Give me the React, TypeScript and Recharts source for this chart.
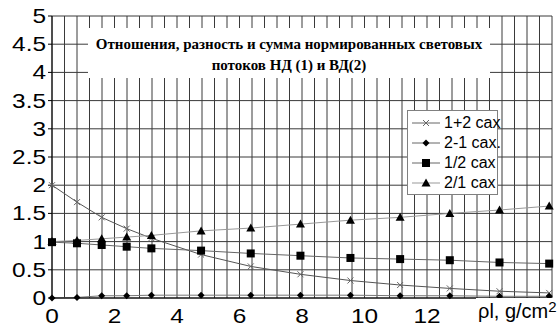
import React from "react";
import { LineChart, Line, XAxis, YAxis, CartesianGrid } from "recharts";

const rhoL = [0, 0.8, 1.59, 2.39, 3.18, 4.77, 6.36, 7.95, 9.55, 11.14, 12.73, 14.32, 15.91];
const sum12 = [2.0, 1.7, 1.43, 1.23, 1.06, 0.77, 0.56, 0.42, 0.31, 0.23, 0.17, 0.12, 0.09];
const diff21 = [0, 0.01, 0.04, 0.04, 0.05, 0.05, 0.05, 0.05, 0.05, 0.04, 0.04, 0.03, 0.03];
const ratio12 = [0.99, 0.97, 0.94, 0.91, 0.88, 0.84, 0.79, 0.75, 0.71, 0.69, 0.67, 0.63, 0.61];
const ratio21 = [1.0, 1.02, 1.05, 1.08, 1.11, 1.19, 1.24, 1.31, 1.38, 1.43, 1.5, 1.56, 1.63];

const X_MAX = 16;
const xTicks = [0, 2, 4, 6, 8, 10, 12];
const yTicks = [0, 0.5, 1, 1.5, 2, 2.5, 3, 3.5, 4, 4.5, 5];
const gridTicks = Array.from({ length: 41 }, (_, i) => +(i * 0.4).toFixed(1));

const titleLines = [
  "Отношения, разность и сумма нормированных световых",
  "потоков НД (1) и ВД(2)",
];

const data = rhoL.map((x, i) => ({
  x,
  s: sum12[i],
  d: diff21[i],
  r12: ratio12[i],
  r21: ratio21[i],
}));

const Cross = ({ cx, cy }: any) => (
  <path d={`M${cx - 3},${cy - 3}L${cx + 3},${cy + 3}M${cx - 3},${cy + 3}L${cx + 3},${cy - 3}`} stroke="#666" strokeWidth={1} />
);
const Diamond = ({ cx, cy }: any) => (
  <path d={`M${cx},${cy - 3.5}L${cx + 3.5},${cy}L${cx},${cy + 3.5}L${cx - 3.5},${cy}Z`} fill="#000" />
);
const Square = ({ cx, cy }: any) => <rect x={cx - 4} y={cy - 4} width={8} height={8} fill="#000" />;
const Triangle = ({ cx, cy }: any) => (
  <path d={`M${cx},${cy - 4.5}L${cx + 4.5},${cy + 3.5}L${cx - 4.5},${cy + 3.5}Z`} fill="#000" />
);

// Excel-style labels look horizontally stretched
const StretchTick = ({ x, y, payload, anchor, dy }: any) => (
  <g transform={`translate(${x},${y}) scale(1.22,1)`}>
    <text textAnchor={anchor} dy={dy} fontSize={20} fontFamily="Liberation Sans, Arial" fill="#000">
      {payload.value}
    </text>
  </g>
);

const gridX = (props: any) => {
  const { xAxis, offset } = props;
  const sc = xAxis?.scale;
  if (typeof sc === "function") return gridTicks.map((t) => sc(t));
  if (sc && typeof sc.map === "function") return gridTicks.map((t) => sc.map(t));
  return gridTicks.map((t) => offset.left + (t / X_MAX) * offset.width);
};

const legendItems = [
  { label: "1+2 cax", color: "#666", Mark: Cross },
  { label: "2-1 cax.", color: "#666", Mark: Diamond },
  { label: "1/2 cax", color: "#666", Mark: Square },
  { label: "2/1 cax", color: "#999", Mark: Triangle },
];

function LegendBox() {
  return (
    <div style={{ position: "absolute", left: 407, top: 110, background: "#fff", border: "1px solid #808080", width: 91, height: 85, boxSizing: "border-box", padding: "2px 0 0 4px" }}>
      {legendItems.map(({ label, color, Mark }) => (
        <div key={label} style={{ display: "flex", alignItems: "center", height: 20, whiteSpace: "nowrap" }}>
          <svg width={30} height={14} style={{ flex: "none" }}>
            <line x1={0} y1={7} x2={28} y2={7} stroke={color} />
            <Mark cx={14} cy={7} />
          </svg>
          <span style={{ fontFamily: "Liberation Sans, Arial", fontSize: 16, color: "#000", marginLeft: 2 }}>{label}</span>
        </div>
      ))}
    </div>
  );
}

export default function App() {
  return (
    <div style={{ position: "absolute", left: 0, top: 0, width: 558, height: 326, background: "#fff" }}>
      <LineChart width={558} height={326} data={data} margin={{ top: 16, right: 6, left: 0, bottom: 0 }}>
        <CartesianGrid stroke="#3a3a3a" verticalCoordinatesGenerator={gridX} />
        <XAxis
          dataKey="x"
          type="number"
          domain={[0, X_MAX]}
          ticks={xTicks}
          interval={0}
          height={28}
          tickLine={false}
          axisLine={{ stroke: "#000" }}
          tick={<StretchTick anchor="middle" dy={17} />}
        />
        <YAxis
          type="number"
          domain={[0, 5]}
          ticks={yTicks}
          interval={0}
          width={52}
          tickSize={4}
          tickLine={{ stroke: "#000" }}
          axisLine={{ stroke: "#000" }}
          tick={<StretchTick anchor="end" dy={7} />}
        />
        <Line dataKey="s" stroke="#555" strokeWidth={1} dot={<Cross />} isAnimationActive={false} />
        <Line dataKey="d" stroke="#777" strokeWidth={1} dot={<Diamond />} isAnimationActive={false} />
        <Line dataKey="r12" stroke="#666" strokeWidth={1} dot={<Square />} isAnimationActive={false} />
        <Line dataKey="r21" stroke="#999" strokeWidth={1} dot={<Triangle />} isAnimationActive={false} />
      </LineChart>
      <LegendBox />
      <div style={{ position: "absolute", left: 88, top: 28, width: 402, height: 50, background: "#fff", textAlign: "center", fontFamily: "Liberation Serif, Times New Roman", fontWeight: "bold", fontSize: 15, lineHeight: "21px", paddingTop: 6, boxSizing: "border-box", whiteSpace: "nowrap" }}>
        {titleLines.map((t) => (
          <div key={t}>{t}</div>
        ))}
      </div>
      <div style={{ position: "absolute", left: 476, top: 298, fontFamily: "Liberation Sans, Arial", fontSize: 20, color: "#000", whiteSpace: "nowrap", background: "#fff", paddingLeft: 2 }}>
        ρl, g/cm<sup style={{ fontSize: 15, verticalAlign: "6px" }}>2</sup>
      </div>
    </div>
  );
}
